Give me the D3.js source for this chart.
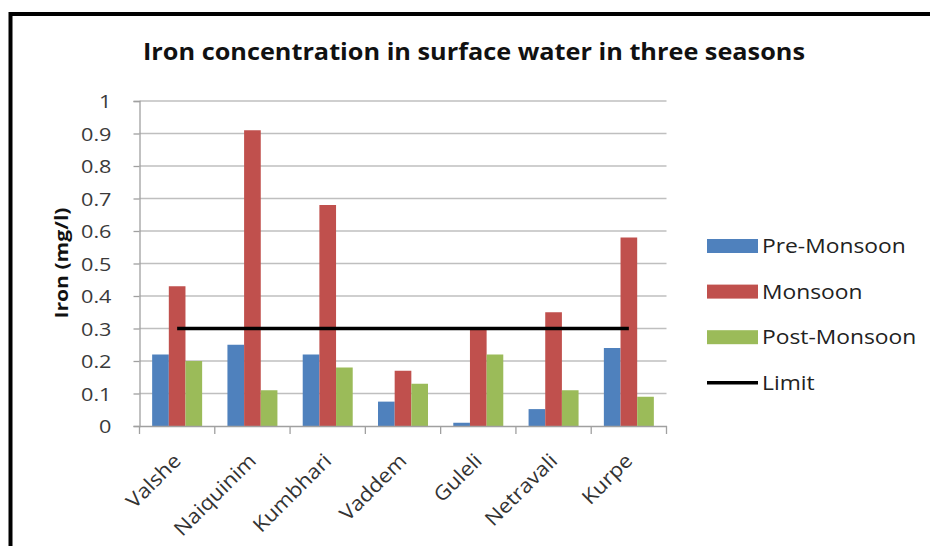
<!DOCTYPE html>
<html>
<head>
<meta charset="utf-8">
<script src="https://cdn.jsdelivr.net/npm/d3@7"></script>
<style>
  html, body { margin: 0; padding: 0; background: #fff; }
  svg { display: block; }
</style>
</head>
<body>
<svg id="chart" width="930" height="546"></svg>
<script>
const categories = ["Valshe", "Naiquinim", "Kumbhari", "Vaddem", "Guleli", "Netravali", "Kurpe"];
const seriesNames = ["Pre-Monsoon", "Monsoon", "Post-Monsoon"];
const preMonsoon = [0.22, 0.25, 0.22, 0.075, 0.01, 0.052, 0.24];
const monsoon = [0.43, 0.91, 0.68, 0.17, 0.30, 0.35, 0.58];
const postMonsoon = [0.20, 0.11, 0.18, 0.13, 0.22, 0.11, 0.09];
const limitValue = 0.3;
const limitName = "Limit";
const yTicks = [0, 0.1, 0.2, 0.3, 0.4, 0.5, 0.6, 0.7, 0.8, 0.9, 1];
const title = "Iron concentration in surface water in three seasons";
const yTitle = "Iron (mg/l)";
const colors = ["#4F81BD", "#C0504D", "#9BBB59"];

const seriesValues = [preMonsoon, monsoon, postMonsoon];
const svg = d3.select("#chart");
const FONT = "'Open Sans', 'Liberation Sans', sans-serif";
const STRETCH = 1.14;

function stretch(sel, k = STRETCH) {
  sel.each(function () {
    const n = this.getComputedTextLength();
    d3.select(this).attr("textLength", n * k).attr("lengthAdjust", "spacingAndGlyphs");
  });
}

// frame border
svg.append("path")
  .attr("d", "M10.5,546 L10.5,14 L930,14")
  .attr("fill", "none").attr("stroke", "#000").attr("stroke-width", 4);

const plot = { left: 139.5, right: 666.5, top: 101, bottom: 426 };

const x0 = d3.scaleBand().domain(categories).range([plot.left, plot.right]).padding(0);
const step = x0.bandwidth();
const x1 = d3.scaleBand().domain(seriesNames).range([step * 0.168, step * 0.832]).padding(0);
const y = d3.scaleLinear().domain([0, 1]).range([plot.bottom, plot.top]);

// gridlines
svg.append("g").selectAll("line").data(yTicks.slice(1)).join("line")
  .attr("x1", plot.left).attr("x2", plot.right)
  .attr("y1", d => y(d)).attr("y2", d => y(d))
  .attr("stroke", "#BFBFBF").attr("stroke-width", 1.5);

// Y axis
const yAxis = svg.append("g").attr("transform", `translate(${plot.left},0)`)
  .call(d3.axisLeft(y).tickValues(yTicks).tickSize(6).tickPadding(22)
    .tickFormat(d => d3.format("~g")(d)));
yAxis.select(".domain").attr("stroke", "#A0A0A0").attr("stroke-width", 1.3);
yAxis.selectAll(".tick line").attr("stroke", "#A0A0A0").attr("stroke-width", 1.3);
yAxis.selectAll(".tick text").attr("font-family", FONT).attr("font-size", 19)
  .attr("fill", "#3a3a3a").attr("dy", "0.36em").call(stretch);

// bars
const groups = svg.append("g").selectAll("g").data(categories).join("g")
  .attr("transform", d => `translate(${x0(d)},0)`);
groups.selectAll("rect")
  .data((c, i) => seriesNames.map((s, j) => ({ s, j, v: seriesValues[j][i] })))
  .join("rect")
  .attr("x", d => x1(d.s))
  .attr("width", x1.bandwidth())
  .attr("y", d => y(d.v))
  .attr("height", d => y(0) - y(d.v))
  .attr("fill", d => colors[d.j]);

// X axis
const xAxis = svg.append("g").attr("transform", `translate(0,${plot.bottom})`)
  .call(d3.axisBottom(x0).tickSize(0).tickPadding(0));
xAxis.select(".domain").attr("stroke", "#A0A0A0").attr("stroke-width", 1.3);
const bounds = categories.map(c => x0(c)).concat([x0.range()[1]]);
xAxis.selectAll(".bt").data(bounds).join("line").attr("class", "bt")
  .attr("x1", d => d).attr("x2", d => d).attr("y1", 0).attr("y2", 8)
  .attr("stroke", "#A0A0A0").attr("stroke-width", 1.3);
xAxis.selectAll(".tick text")
  .attr("font-family", FONT).attr("font-size", 20).attr("fill", "#333")
  .attr("text-anchor", "end")
  .attr("dy", null).attr("y", 0)
  .attr("transform", "translate(5,36) rotate(-45)")
  .call(stretch, 1.1);

// limit line
svg.append("line")
  .attr("x1", x0(categories[0]) + step / 2)
  .attr("x2", x0(categories[categories.length - 1]) + step / 2)
  .attr("y1", y(limitValue)).attr("y2", y(limitValue))
  .attr("stroke", "#000").attr("stroke-width", 3.5);

// title
svg.append("text").attr("x", 474).attr("y", 60)
  .attr("text-anchor", "middle").attr("font-family", FONT)
  .attr("font-weight", "bold").attr("font-size", 23).attr("fill", "#111")
  .attr("textLength", 662).attr("lengthAdjust", "spacingAndGlyphs")
  .text(title);

// y title
svg.append("text").attr("transform", "translate(68,263) rotate(-90)")
  .attr("text-anchor", "middle").attr("font-family", FONT)
  .attr("font-weight", "bold").attr("font-size", 18).attr("fill", "#111")
  .attr("textLength", 111).attr("lengthAdjust", "spacingAndGlyphs")
  .text(yTitle);

// legend
const legendItems = seriesNames.map((s, i) => ({ name: s, type: "rect", color: colors[i] }))
  .concat([{ name: limitName, type: "line", color: "#000" }]);
const lg = svg.append("g").selectAll("g").data(legendItems).join("g")
  .attr("transform", (d, i) => `translate(707,${246 + i * 45.6})`);
lg.filter(d => d.type === "rect").append("rect")
  .attr("x", 0).attr("y", -7).attr("width", 51).attr("height", 14)
  .attr("fill", d => d.color);
lg.filter(d => d.type === "line").append("line")
  .attr("x1", 0).attr("x2", 51).attr("y1", 0).attr("y2", 0)
  .attr("stroke", "#000").attr("stroke-width", 3.5);
lg.append("text").attr("x", 55).attr("y", 0).attr("dy", "0.36em")
  .attr("font-family", FONT).attr("font-size", 20).attr("fill", "#222")
  .text(d => d.name).call(stretch);
</script>
</body>
</html>
